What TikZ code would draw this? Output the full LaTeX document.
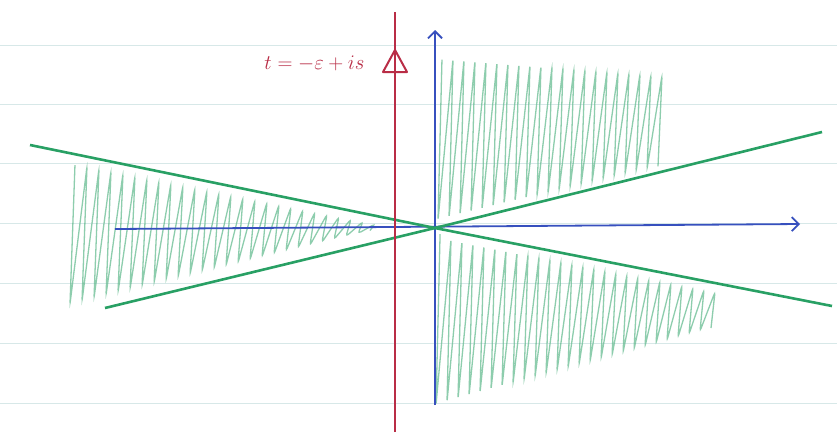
\documentclass[tikz,border=0pt]{standalone}
\usetikzlibrary{arrows.meta}
\definecolor{pengreen}{RGB}{40,160,100}
\definecolor{penblue}{RGB}{55,80,190}
\definecolor{penred}{RGB}{185,45,70}
\definecolor{ruling}{RGB}{215,232,232}
\begin{document}
\begin{tikzpicture}[x=1pt,y=-1pt,
  rule/.style={ruling,line width=1pt},
  axis/.style={penblue,line width=1.8pt,-{Straight Barb[length=7pt,width=14pt]}},
  ray/.style={pengreen,line width=2.6pt},
  scribble/.style={pengreen!75!white,line width=1.3pt,rounded corners=3pt,opacity=0.7}]
  \useasboundingbox[fill=white] (0,0) rectangle (837,432);
  \foreach \y in {45,104,163,223,283,343,403}
    \draw[rule] (0,\y) -- (837,\y);
  % shading
  \draw[scribble] (75,165) \foreach \x in {75,87,...,375}
    { -- (\x,{164+(\x-75)*0.2}) -- (\x-5,{304-(\x-75)*0.245}) };
  \draw[scribble] (442,62) \foreach \x in {442,453,...,672}
    { -- (\x,{58+(\x-442)*0.08}) -- (\x-4,{222-(\x-435)*0.245}) };
  \draw[scribble] (440,236) \foreach \x in {440,451,...,720}
    { -- (\x,{236+(\x-435)*0.2}) -- (\x-4,{405-(\x-440)*0.28}) };
  % axes
  \coordinate (O) at (435,228);
  \coordinate (xl) at (115,229);
  \coordinate (xr) at (800,224);
  \coordinate (yb) at (435,405);
  \coordinate (yt) at (435,30);
  \draw[axis] (xl) -- (xr);
  \draw[axis] (yb) -- (yt);
  % rays
  \coordinate (a1) at (30,145);
  \coordinate (a2) at (832,306);
  \coordinate (b1) at (105,308);
  \coordinate (b2) at (822,132);
  \draw[ray] (a1) -- (O) -- (a2);
  \draw[ray] (b1) -- (O) -- (b2);
  % contour
  \coordinate (cb) at (395,432);
  \coordinate (ct) at (395,12);
  \draw[penred,line width=1.8pt] (cb) -- (ct);
  \draw[penred,line width=2pt,line join=round] (395,50) -- (407,72) -- (383,72) -- cycle;
  \node[penred,anchor=east,font=\fontsize{20}{22}\selectfont] (lbl) at (368,64) {$t=-\varepsilon+is$};
\end{tikzpicture}
\end{document}
